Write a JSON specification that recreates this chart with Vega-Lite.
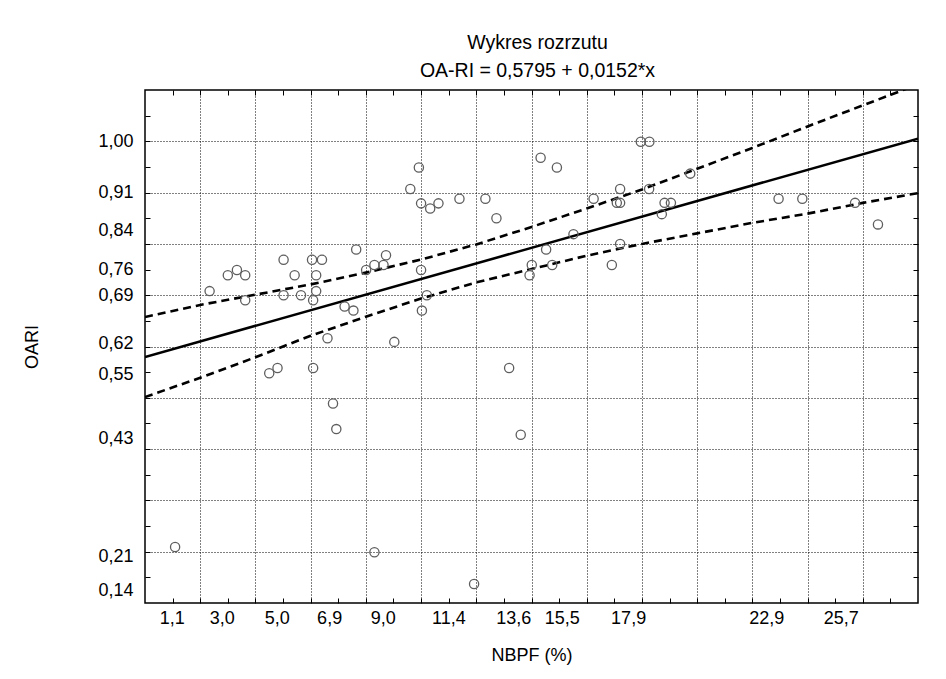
{
  "$schema": "https://vega.github.io/schema/vega-lite/v6.json",
  "width": 773,
  "height": 513,
  "autosize": {"type": "none"},
  "padding": {"left": 145, "top": 90, "right": 28, "bottom": 76},
  "background": "white",
  "title": {
    "text": ["Wykres rozrzutu", "OA-RI = 0,5795 + 0,0152*x"],
    "anchor": "middle",
    "frame": "group",
    "font": "Liberation Sans, Arial, sans-serif",
    "fontSize": 19.5,
    "fontWeight": "normal",
    "color": "#000",
    "lineHeight": 28,
    "offset": -11,
    "baseline": "bottom",
    "dx": 6
  },
  "datasets": {
    "pts": [
      {"x": 2.34, "y": 0.708}, {"x": 3.00, "y": 0.739}, {"x": 3.33, "y": 0.749}, {"x": 3.63, "y": 0.739},
      {"x": 3.63, "y": 0.690}, {"x": 5.02, "y": 0.769}, {"x": 5.02, "y": 0.700}, {"x": 5.42, "y": 0.739},
      {"x": 5.65, "y": 0.700}, {"x": 6.05, "y": 0.769}, {"x": 6.41, "y": 0.769}, {"x": 6.20, "y": 0.739},
      {"x": 6.20, "y": 0.708}, {"x": 6.09, "y": 0.690}, {"x": 7.23, "y": 0.678}, {"x": 7.55, "y": 0.670},
      {"x": 7.65, "y": 0.789}, {"x": 8.01, "y": 0.749}, {"x": 8.31, "y": 0.759}, {"x": 8.64, "y": 0.759},
      {"x": 8.73, "y": 0.778}, {"x": 9.92, "y": 0.949}, {"x": 9.61, "y": 0.907}, {"x": 10.00, "y": 0.879},
      {"x": 10.33, "y": 0.869}, {"x": 10.63, "y": 0.879}, {"x": 11.39, "y": 0.888}, {"x": 12.33, "y": 0.888},
      {"x": 12.73, "y": 0.850}, {"x": 10.00, "y": 0.749}, {"x": 10.21, "y": 0.700}, {"x": 10.03, "y": 0.670},
      {"x": 14.33, "y": 0.968}, {"x": 14.01, "y": 0.759}, {"x": 13.93, "y": 0.739}, {"x": 6.61, "y": 0.616},
      {"x": 9.03, "y": 0.609}, {"x": 4.50, "y": 0.548}, {"x": 4.80, "y": 0.558}, {"x": 6.09, "y": 0.558},
      {"x": 6.81, "y": 0.489}, {"x": 6.93, "y": 0.439}, {"x": 13.19, "y": 0.558}, {"x": 13.61, "y": 0.428},
      {"x": 1.09, "y": 0.209}, {"x": 8.31, "y": 0.199}, {"x": 11.92, "y": 0.137}, {"x": 14.92, "y": 0.949},
      {"x": 17.96, "y": 0.999}, {"x": 18.27, "y": 0.999}, {"x": 19.75, "y": 0.937}, {"x": 16.25, "y": 0.888},
      {"x": 17.21, "y": 0.907}, {"x": 17.09, "y": 0.880}, {"x": 17.21, "y": 0.880}, {"x": 18.26, "y": 0.907},
      {"x": 18.82, "y": 0.880}, {"x": 19.05, "y": 0.880}, {"x": 18.72, "y": 0.858}, {"x": 22.95, "y": 0.888},
      {"x": 23.81, "y": 0.888}, {"x": 25.72, "y": 0.880}, {"x": 26.55, "y": 0.838}, {"x": 15.52, "y": 0.819},
      {"x": 17.21, "y": 0.800}, {"x": 14.53, "y": 0.789}, {"x": 14.75, "y": 0.759}, {"x": 16.91, "y": 0.759}
    ],
    "lines": [
      {"x": 0, "y": 0.5795, "s": "fit"}, {"x": 28, "y": 1.0051, "s": "fit"},
      {"x": 0, "y": 0.5015, "s": "lo"}, {"x": 2, "y": 0.539, "s": "lo"}, {"x": 4, "y": 0.579, "s": "lo"},
      {"x": 6, "y": 0.621, "s": "lo"}, {"x": 8, "y": 0.658, "s": "lo"}, {"x": 10, "y": 0.6935, "s": "lo"},
      {"x": 12, "y": 0.725, "s": "lo"}, {"x": 14, "y": 0.751, "s": "lo"}, {"x": 16, "y": 0.777, "s": "lo"},
      {"x": 18, "y": 0.800, "s": "lo"}, {"x": 20, "y": 0.8205, "s": "lo"}, {"x": 22, "y": 0.841, "s": "lo"},
      {"x": 24, "y": 0.859, "s": "lo"}, {"x": 26, "y": 0.880, "s": "lo"}, {"x": 28, "y": 0.899, "s": "lo"},
      {"x": 0, "y": 0.6575, "s": "hi"}, {"x": 2, "y": 0.681, "s": "hi"}, {"x": 4, "y": 0.701, "s": "hi"},
      {"x": 6, "y": 0.721, "s": "hi"}, {"x": 8, "y": 0.744, "s": "hi"}, {"x": 10, "y": 0.7695, "s": "hi"},
      {"x": 12, "y": 0.799, "s": "hi"}, {"x": 14, "y": 0.833, "s": "hi"}, {"x": 16, "y": 0.869, "s": "hi"},
      {"x": 18, "y": 0.906, "s": "hi"}, {"x": 20, "y": 0.9465, "s": "hi"}, {"x": 22, "y": 0.987, "s": "hi"},
      {"x": 24, "y": 1.029, "s": "hi"}, {"x": 26, "y": 1.070, "s": "hi"}, {"x": 28, "y": 1.111, "s": "hi"}
    ]
  },
  "layer": [
    {
      "data": {"name": "lines"},
      "transform": [{"filter": "datum.s === 'fit'"}],
      "mark": {"type": "line", "color": "#000", "strokeWidth": 2.6, "clip": true},
      "encoding": {
        "x": {"field": "x", "type": "quantitative", "scale": {"domain": [0, 28], "nice": false, "zero": false},
          "axis": {"orient": "bottom", "title": null, "values": [2,4,6,8,10,12,14,16,18,20,22,24,26], "grid": true, "gridDash": [1, 2], "gridColor": "#000", "gridWidth": 1, "labels": false, "ticks": false, "domain": false}},
        "y": {"field": "y", "type": "quantitative", "scale": {"domain": [0.1, 1.1], "nice": false, "zero": false},
          "axis": {"orient": "left", "title": null, "values": [0.2,0.3,0.4,0.5,0.6,0.7,0.8,0.9,1.0], "grid": true, "gridDash": [1, 2], "gridColor": "#000", "gridWidth": 1, "labels": false, "ticks": false, "domain": false}}
      }
    },
    {
      "data": {"name": "lines"},
      "transform": [{"filter": "datum.s === 'lo'"}],
      "mark": {"type": "line", "color": "#000", "strokeWidth": 2.6, "strokeDash": [8, 5], "clip": true},
      "encoding": {
        "x": {"field": "x", "type": "quantitative", "scale": {"domain": [0, 28], "nice": false, "zero": false},
          "axis": {"orient": "bottom", "title": null, "values": [1,2,3,4,5,6,7,8,9,10,11,12,13,14,15,16,17,18,19,20,21,22,23,24,25,26,27], "grid": false, "labels": false, "ticks": true, "tickSize": -5, "tickColor": "#000", "tickWidth": 1, "domain": false}},
        "y": {"field": "y", "type": "quantitative", "scale": {"domain": [0.1, 1.1], "nice": false, "zero": false},
          "axis": {"orient": "left", "title": null, "values": [0.15,0.2,0.25,0.3,0.35,0.4,0.45,0.5,0.55,0.6,0.65,0.7,0.75,0.8,0.85,0.9,0.95,1.0,1.05], "grid": false, "labels": false, "ticks": true, "tickSize": -5, "tickColor": "#000", "tickWidth": 1, "domain": false}}
      }
    },
    {
      "data": {"name": "lines"},
      "transform": [{"filter": "datum.s === 'hi'"}],
      "mark": {"type": "line", "color": "#000", "strokeWidth": 2.6, "strokeDash": [8, 5], "clip": true},
      "encoding": {
        "x": {"field": "x", "type": "quantitative", "scale": {"domain": [0, 28], "nice": false, "zero": false},
          "axis": {"orient": "top", "title": null, "values": [1,2,3,4,5,6,7,8,9,10,11,12,13,14,15,16,17,18,19,20,21,22,23,24,25,26,27], "grid": false, "labels": false, "ticks": true, "tickSize": -5, "tickColor": "#000", "tickWidth": 1, "domain": false}},
        "y": {"field": "y", "type": "quantitative", "scale": {"domain": [0.1, 1.1], "nice": false, "zero": false},
          "axis": {"orient": "right", "title": null, "values": [0.15,0.2,0.25,0.3,0.35,0.4,0.45,0.5,0.55,0.6,0.65,0.7,0.75,0.8,0.85,0.9,0.95,1.0,1.05], "grid": false, "labels": false, "ticks": true, "tickSize": -5, "tickColor": "#000", "tickWidth": 1, "domain": false}}
      }
    },
    {
      "data": {"name": "pts"},
      "mark": {"type": "point", "shape": "circle", "filled": false, "stroke": "#5e5e5e", "strokeWidth": 1.3, "size": 85, "opacity": 1},
      "encoding": {
        "x": {"field": "x", "type": "quantitative", "scale": {"domain": [0, 28], "nice": false, "zero": false},
          "axis": {"orient": "bottom", "title": "NBPF (%)", "values": [0.97, 2.78, 4.77, 6.67, 8.61, 10.99, 13.34, 15.1, 17.5, 22.5, 25.2],
            "labelExpr": "['1,1','3,0','5,0','6,9','9,0','11,4','13,6','15,5','17,9','22,9','25,7'][indexof([0.97, 2.78, 4.77, 6.67, 8.61, 10.99, 13.34, 15.1, 17.5, 22.5, 25.2], datum.value)]",
            "grid": false, "ticks": false, "domain": false, "labelPadding": 6, "labelFlush": false, "labelOverlap": false, "titlePadding": 19}},
        "y": {"field": "y", "type": "quantitative", "scale": {"domain": [0.1, 1.1], "nice": false, "zero": false},
          "axis": {"orient": "left", "title": "OARI", "values": [1.0, 0.9, 0.827, 0.751, 0.7, 0.605, 0.546, 0.42, 0.19, 0.125],
            "labelExpr": "['1,00','0,91','0,84','0,76','0,69','0,62','0,55','0,43','0,21','0,14'][indexof([1.0, 0.9, 0.827, 0.751, 0.7, 0.605, 0.546, 0.42, 0.19, 0.125], datum.value)]",
            "grid": false, "ticks": false, "domain": false, "labelPadding": 12, "labelFlush": false, "labelOverlap": false, "titlePadding": 56}}
      }
    },
    {
      "mark": {"type": "text", "align": "left", "baseline": "middle", "fontSize": 19, "color": "#000"},
      "encoding": {
        "x": {"datum": 15.24, "type": "quantitative", "axis": null},
        "y": {"datum": 0.353, "type": "quantitative", "axis": null},
        "text": {"value": "r = 0,66; p < 0,000001"}
      }
    }
  ],
  "resolve": {"axis": {"x": "independent", "y": "independent"}},
  "config": {
    "font": "Liberation Sans, Arial, sans-serif",
    "view": {"stroke": "#000", "strokeWidth": 1.5},
    "axis": {
      "labelFont": "Liberation Sans, Arial, sans-serif",
      "titleFont": "Liberation Sans, Arial, sans-serif",
      "labelFontSize": 18,
      "titleFontSize": 18,
      "titleFontWeight": "normal",
      "labelColor": "#000",
      "titleColor": "#000"
    },
    "text": {"font": "Liberation Sans, Arial, sans-serif"}
  }
}
